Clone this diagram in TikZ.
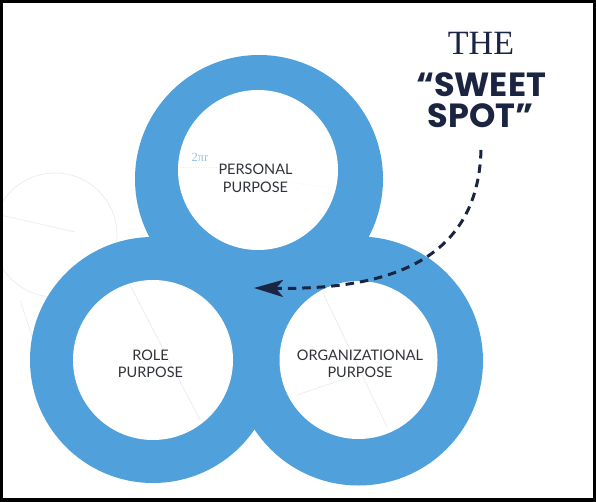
\documentclass[tikz,border=0pt]{standalone}
\usepackage{fontspec}
\usetikzlibrary{arrows.meta}
\newfontfamily\labelfont{Lato}
\newfontfamily\heavyfont{Poppins}
\newfontfamily\thefont{Liberation Serif}
\definecolor{ringblue}{HTML}{50A0DC}
\definecolor{navy}{HTML}{1B2541}
\definecolor{labelgray}{HTML}{30333A}
\definecolor{faintblue}{HTML}{9DC3E6}
\definecolor{faintline}{HTML}{EAEAEA}
\tikzset{
  outerring/.style={circle, inner sep=0pt, fill=ringblue, draw=none},
  innerdisc/.style={circle, inner sep=0pt, fill=white, draw=none},
  ringlabel/.style={font=\labelfont\fontsize{14.5}{17}\selectfont, text=labelgray, anchor=base, inner sep=0pt},
  headline/.style={font=\heavyfont\bfseries\fontsize{33.5}{38}\selectfont, text=navy, anchor=base, inner sep=0pt},
  construct/.style={draw=faintline, line width=0.6pt},
  sweetarrow/.style={draw=navy, line width=3pt, dash pattern=on 8.5pt off 6pt,
    -{Stealth[length=29pt,width=17pt,inset=7pt]}}
}
\begin{document}
\begin{tikzpicture}[x=1pt,y=-1pt]
\useasboundingbox (0,0) rectangle (596,502);
\fill[white] (0,0) rectangle (596,502);
% faint construction lines
\draw[construct] (55,235) circle (62);
\draw[construct] (0,215) -- (75,232);
\draw[construct] (130,275) -- (233,333);
\draw[construct] (20,300) -- (60,420);
% outer rings
\node[outerring, minimum size=248pt] (topout) at (259,179) {};
\node[outerring, minimum size=246pt] (leftout) at (153,360) {};
\node[outerring, minimum size=249pt] (rightout) at (358.5,361) {};
% inner discs
\node[innerdisc, minimum size=160pt] (topin) at (258,170) {};
\node[innerdisc, minimum size=160pt] (leftin) at (153,360) {};
\node[innerdisc, minimum size=158pt] (rightin) at (358.5,360) {};
% faint lines inside discs
\draw[construct, dotted] (180,167) -- (217,167);
\draw[construct, dotted] (293,183) -- (327,187);
\draw[construct] (130,285) -- (200,420);
\draw[construct] (323,293) -- (387,427);
\draw[construct] (297,395) -- (350,377);
% labels
\node[font=\thefont\fontsize{12.5}{14}\selectfont, text=faintblue, inner sep=0pt, anchor=base] (twopir) at (200,162) {2πr};
\node[ringlabel] (per1) at (255.5,175) {PERSONAL};
\node[ringlabel] (per2) at (255.5,193) {PURPOSE};
\node[ringlabel] (role1) at (150.5,360) {ROLE};
\node[ringlabel] (role2) at (150.5,377) {PURPOSE};
\node[ringlabel] (org1) at (360,360) {ORGANIZATIONAL};
\node[ringlabel] (org2) at (360,377) {PURPOSE};
% headline
\node[font=\thefont\fontsize{34}{40}\selectfont, text=navy, anchor=base, inner sep=0pt] (the) at (481,55) {THE};
\node[headline] (sweet) at (481,97) {“SWEET};
\node[headline] (spot) at (480.5,128) {SPOT”};
% arrow
\coordinate (arrstart) at (481,150);
\coordinate (sweetspot) at (254,288);
\draw[sweetarrow] (arrstart) .. controls (478,260) and (390,290) .. (sweetspot);
% frame
\draw[black, line width=3pt] (1.5,1.5) rectangle (594.5,500);
\fill[black] (0,498) rectangle (596,502);
\end{tikzpicture}
\end{document}
